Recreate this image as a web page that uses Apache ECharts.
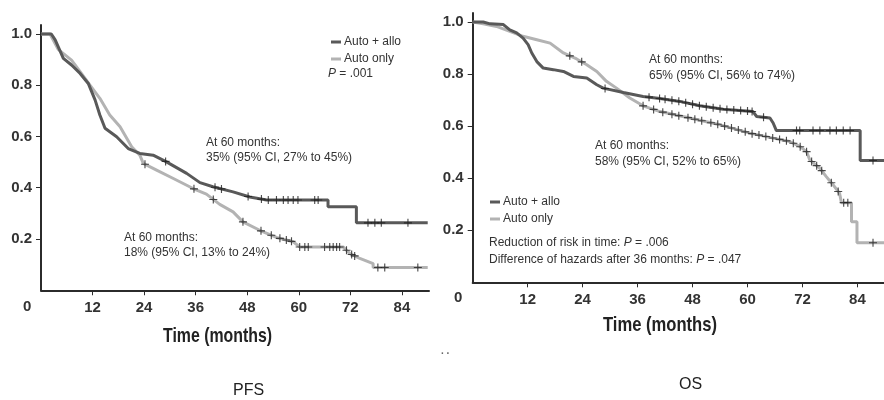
<!DOCTYPE html>
<html>
<head>
<meta charset="utf-8">
<script src="https://cdn.jsdelivr.net/npm/echarts@6/dist/echarts.min.js"></script>
<style>html,body{margin:0;padding:0;background:#fff;}#c{width:884px;height:400px;}</style>
</head>
<body>
<div id="c"></div>
<script>
// ---- Data ----
var xTicks = [12, 24, 36, 48, 60, 72, 84];
var yTicks = [0.2, 0.4, 0.6, 0.8, 1.0];

// PFS, Auto + allo
var pfsAlloT = [0, 2.4, 3.3, 5.2, 7.1, 9.1, 11, 12.6, 13.7, 14.9, 17.6, 20.3, 23, 26.1, 29.2, 33.9, 37, 40, 44.7, 48.6, 52.5, 66.8, 66.8, 73.4, 73.4, 90];
var pfsAlloS = [1, 1, 0.977, 0.905, 0.879, 0.846, 0.807, 0.742, 0.684, 0.632, 0.599, 0.553, 0.534, 0.527, 0.501, 0.456, 0.42, 0.404, 0.384, 0.364, 0.352, 0.352, 0.326, 0.326, 0.263, 0.263];
var pfsAlloCens = [29, 40.5, 42, 48.2, 51.3, 52.9, 54.8, 56.4, 57.5, 58.7, 59.8, 63.7, 64.5, 76.1, 77.7, 79.2, 85.4];
// PFS, Auto only
var pfsAutoT = [0, 2.1, 4, 7.1, 9.1, 11.4, 13.7, 16, 18.4, 21.1, 23, 23.8, 26.9, 30.8, 35.4, 38.5, 41.6, 44.7, 47, 50.9, 54.8, 58.7, 60.2, 70.3, 71.9, 74.2, 77.3, 77.3, 90];
var pfsAutoS = [1, 1, 0.94, 0.898, 0.853, 0.8, 0.749, 0.684, 0.638, 0.56, 0.527, 0.495, 0.469, 0.436, 0.397, 0.375, 0.335, 0.306, 0.267, 0.234, 0.206, 0.189, 0.169, 0.169, 0.143, 0.124, 0.104, 0.089, 0.089];
var pfsAutoCens = [24.2, 35.6, 40.1, 47, 51.2, 53.6, 55.6, 57.1, 58.3, 60.2, 61.4, 62.2, 66, 67.2, 68, 68.8, 69.5, 71.1, 72.3, 73, 78.4, 80, 87.7];

// OS, Auto + allo
var osAlloT = [0, 2.3, 3.8, 6.7, 8.1, 9.6, 11, 12.1, 12.9, 14, 15.4, 17.6, 19.8, 22, 24.9, 27.1, 28.5, 32.9, 37.2, 40.9, 45.2, 49.6, 54.7, 61.2, 62, 64.9, 65.6, 66.3, 84.6, 84.6, 90];
var osAlloS = [1, 1, 0.993, 0.99, 0.97, 0.958, 0.938, 0.913, 0.881, 0.848, 0.823, 0.817, 0.81, 0.791, 0.785, 0.759, 0.746, 0.729, 0.714, 0.706, 0.695, 0.678, 0.665, 0.656, 0.637, 0.631, 0.612, 0.583, 0.583, 0.468, 0.468];
var osAlloCens = [28.9, 38.5, 40.8, 42, 43.5, 45, 46.5, 48, 49.5, 51, 52.5, 54, 55.5, 57, 58.5, 60, 61, 63.5, 70.7, 71.4, 74.3, 75.8, 78, 79.4, 80.9, 82.4, 87.4];
// OS, Auto only
var osAutoT = [0, 2.3, 5.2, 8.1, 11, 14, 16.9, 19.8, 22.7, 24.9, 27.1, 29.2, 31.4, 34.3, 37.2, 40.9, 47.4, 54, 60.5, 65.6, 69.2, 71.4, 72.9, 73.6, 75.8, 77.2, 78.7, 80.1, 80.5, 82.7, 82.7, 83.9, 83.9, 90];
var osAutoS = [1, 0.993, 0.983, 0.964, 0.945, 0.932, 0.919, 0.881, 0.858, 0.836, 0.81, 0.772, 0.746, 0.708, 0.678, 0.656, 0.631, 0.605, 0.573, 0.554, 0.541, 0.522, 0.502, 0.47, 0.438, 0.406, 0.374, 0.342, 0.306, 0.306, 0.233, 0.233, 0.152, 0.152];
var osAutoCens = [21.2, 23.8, 37.2, 39.5, 41.5, 43.5, 45, 47, 48.5, 50, 52, 53.5, 55, 56.5, 58, 59.5, 61, 62.5, 64, 65.5, 67, 68.5, 70, 71.5, 72.9, 74, 75.1, 76.2, 78.3, 79.8, 81, 81.9, 87.4];

// ---- helpers ----
function pairs(t, s) { return t.map(function (v, i) { return [v, s[i]]; }); }
function onCurve(t, s, c) {
  // place each censor mark on the drawn curve at its time
  return c.map(function (x) {
    for (var i = 0; i < t.length - 1; i++) {
      if (x >= t[i] && x <= t[i + 1]) {
        if (t[i + 1] === t[i]) return [x, s[i + 1]];
        var f = (x - t[i]) / (t[i + 1] - t[i]);
        return [x, s[i] + f * (s[i + 1] - s[i])];
      }
    }
    return [x, s[s.length - 1]];
  });
}

var DARK = '#595959', LIGHT = '#b3b3b3', INK = '#2b2b2b';
var TICKF = "'Liberation Sans',Arial,sans-serif";
var SANS = "'Liberation Sans',Arial,sans-serif";
var PLUS = 'path://M4.3,0h1.4v4.3h4.3v1.4h-4.3v4.3h-1.4v-4.3h-4.3v-1.4h4.3z';

var mctx = document.createElement('canvas').getContext('2d');
function fitScale(text, font, target) { mctx.font = font; return target / mctx.measureText(text).width; }

function xAx(idx, max) {
  return {
    type: 'value', gridIndex: idx, min: 0, max: max,
    axisLine: { lineStyle: { color: INK, width: 2 } },
    axisTick: { customValues: xTicks, length: 5, lineStyle: { color: INK, width: 1 } },
    axisLabel: { customValues: xTicks, margin: 10, color: '#333', fontFamily: TICKF, fontWeight: 'bold', fontSize: 15 },
    splitLine: { show: false }
  };
}
function yAx(idx) {
  return {
    type: 'value', gridIndex: idx, min: 0, max: 1.035,
    axisLine: { show: true, lineStyle: { color: INK, width: 2 } },
    axisTick: { show: true, customValues: yTicks, length: 5, lineStyle: { color: INK, width: 1 } },
    axisLabel: { customValues: yTicks, margin: 9, color: '#333', fontFamily: TICKF, fontWeight: 'bold', fontSize: 15,
      formatter: function (v) { return v.toFixed(1); } },
    splitLine: { show: false }
  };
}
function lineS(name, idx, data, color, z) {
  return { type: 'line', name: name, xAxisIndex: idx, yAxisIndex: idx, data: data, showSymbol: false, symbol: 'none',
    lineStyle: { color: color, width: 3 }, itemStyle: { color: color }, z: z, animation: false };
}
function censS(name, idx, data) {
  return { type: 'scatter', name: name, xAxisIndex: idx, yAxisIndex: idx, data: data, symbol: PLUS, symbolSize: 8,
    itemStyle: { color: '#1e1e1e' }, z: 5, animation: false, silent: true };
}
function txt(x, y, s, opt) {
  opt = opt || {};
  return { type: 'text', left: x, top: y - (opt.size || 12) / 2 - 1, silent: true,
    style: { text: s, fill: opt.fill || '#333', font: (opt.weight || 'normal') + ' ' + (opt.size || 12) + 'px ' + (opt.family || SANS),
      rich: opt.rich } };
}
var italicRich = { i: { fontStyle: 'italic', fontFamily: SANS, fontSize: 12, fill: '#333' } };
var titleFont = 'bold 21px ' + SANS;
var tLabel = 'Time (months)';

var option = {
  backgroundColor: '#fff',
  animation: false,
  grid: [
    { left: 41, top: 25, width: 388, height: 265.25 },
    { left: 472.7, top: 12.9, width: 411.3, height: 269.4 }
  ],
  xAxis: [xAx(0, 90.3), xAx(1, 89.8)],
  yAxis: [yAx(0), yAx(1)],
  legend: [
    { orient: 'vertical', left: 326, top: 31, itemWidth: 10, itemHeight: 3, itemGap: 5, icon: 'rect',
      data: ['Auto + allo', 'Auto only'], textStyle: { fontFamily: SANS, fontSize: 12, color: '#333', padding: [0, 0, 0, -2] }, selectedMode: false },
    { orient: 'vertical', left: 485, top: 191, itemWidth: 10, itemHeight: 3, itemGap: 5, icon: 'rect',
      data: ['Auto + allo', 'Auto only'], textStyle: { fontFamily: SANS, fontSize: 12, color: '#333', padding: [0, 0, 0, -2] }, selectedMode: false }
  ],
  series: [
    lineS('Auto only', 0, pairs(pfsAutoT, pfsAutoS), LIGHT, 2),
    lineS('Auto + allo', 0, pairs(pfsAlloT, pfsAlloS), DARK, 3),
    censS('cens', 0, onCurve(pfsAutoT, pfsAutoS, pfsAutoCens)),
    censS('cens', 0, onCurve(pfsAlloT, pfsAlloS, pfsAlloCens)),
    lineS('Auto only', 1, pairs(osAutoT, osAutoS), LIGHT, 2),
    lineS('Auto + allo', 1, pairs(osAlloT, osAlloS), DARK, 3),
    censS('cens', 1, onCurve(osAutoT, osAutoS, osAutoCens)),
    censS('cens', 1, onCurve(osAlloT, osAlloS, osAlloCens))
  ],
  graphic: [
    { type: 'text', left: 23, top: 299, style: { text: '0', fill: '#333', font: 'bold 15px ' + TICKF } },
    { type: 'text', left: 454, top: 290, style: { text: '0', fill: '#333', font: 'bold 15px ' + TICKF } },
    txt(328, 75, '{i|P} = .001', { rich: italicRich }),
    txt(206, 144, 'At 60 months:'),
    txt(206, 159, '35% (95% CI, 27% to 45%)'),
    txt(124, 239, 'At 60 months:'),
    txt(124, 254, '18% (95% CI, 13% to 24%)'),
    txt(649, 61, 'At 60 months:'),
    txt(649, 77, '65% (95% CI, 56% to 74%)'),
    txt(595, 147, 'At 60 months:'),
    txt(595, 163, '58% (95% CI, 52% to 65%)'),
    txt(489, 244, 'Reduction of risk in time: {i|P} = .006', { rich: italicRich }),
    txt(489, 261, 'Difference of hazards after 36 months: {i|P} = .047', { rich: italicRich }),
    { type: 'text', x: 163, y: 326, scaleX: fitScale(tLabel, titleFont, 109), style: { text: tLabel, fill: '#222', font: titleFont } },
    { type: 'text', x: 603, y: 315, scaleX: fitScale(tLabel, titleFont, 114), style: { text: tLabel, fill: '#222', font: titleFont } },
    { type: 'text', left: 441, top: 346, style: { text: '. .', fill: '#666', font: 'bold 10px ' + SANS } },
    { type: 'text', left: 233, top: 383, style: { text: 'PFS', fill: '#222', font: '16px ' + SANS } },
    { type: 'text', left: 679, top: 377, style: { text: 'OS', fill: '#222', font: '16px ' + SANS } }
  ]
};
echarts.init(document.getElementById('c'), null, { renderer: 'canvas' }).setOption(option);
</script>
</body>
</html>
